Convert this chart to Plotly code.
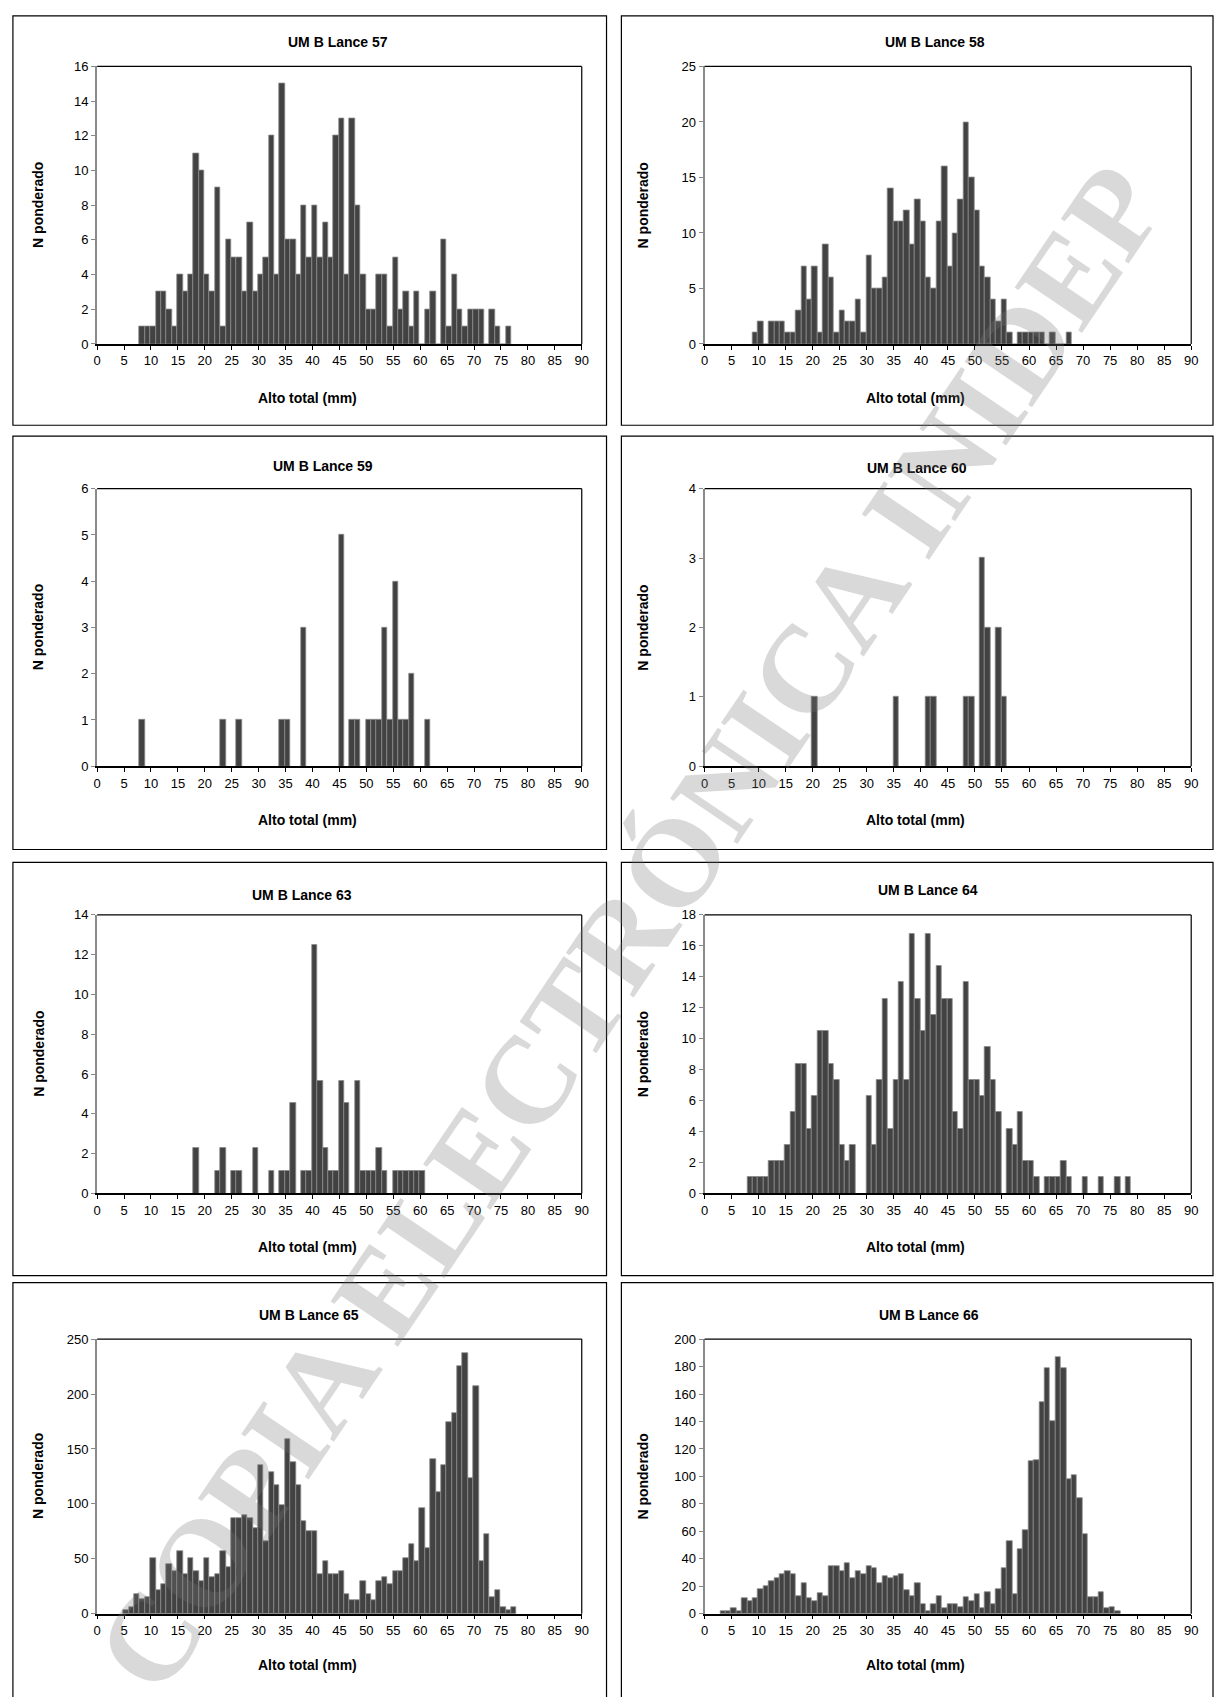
import plotly.graph_objects as go

W, H = 1221, 1697

# ---------------- data ----------------
len57 = list(range(8, 77))
n57 = [1, 1, 1, 3, 3, 2, 1, 4, 3, 4,
       11, 10, 4, 3, 9, 1, 6, 5, 5, 3,
       7, 3, 4, 5, 12, 4, 15, 6, 6, 4,
       8, 5, 8, 5, 7, 5, 12, 13, 4, 13,
       8, 4, 2, 2, 4, 4, 1, 5, 2, 3,
       1, 3, 0, 2, 3, 0, 6, 1, 4, 2,
       1, 2, 2, 2, 0, 2, 1, 0, 1]

len58 = list(range(9, 68))
n58 = [1, 2, 0, 2, 2, 2, 1, 1, 3, 7,
       4, 7, 1, 9, 6, 1, 3, 2, 2, 4,
       1, 8, 5, 5, 6, 14, 11, 11, 12, 9,
       13, 11, 6, 5, 11, 16, 7, 10, 13, 20,
       15, 12, 7, 6, 4, 2, 4, 1, 0, 1,
       1, 1, 1, 1, 0, 1, 0, 0, 1]

len59 = [8, 23, 26, 34, 35, 38, 45, 47, 48, 50, 51, 52, 53, 54, 55, 56, 57, 58, 61]
n59 = [1, 1, 1, 1, 1, 3, 5, 1, 1, 1, 1, 1, 3, 1, 4, 1, 1, 2, 1]

len60 = [20, 35, 41, 42, 48, 49, 51, 52, 54, 55]
n60 = [1, 1, 1, 1, 1, 1, 3, 2, 2, 1]

len63 = [18, 22, 23, 25, 26, 29, 32, 34, 35, 36, 38, 39, 40, 41, 42, 43, 44, 45, 46,
         48, 49, 50, 51, 52, 53, 55, 56, 57, 58, 59, 60]
n63 = [2.27, 1.13, 2.27, 1.13, 1.13, 2.27, 1.13, 1.13, 1.13, 4.54, 1.13, 1.13, 12.47,
       5.67, 2.27, 1.13, 1.13, 5.67, 4.54, 5.67, 1.13, 1.13, 1.13, 2.27, 1.13,
       1.13, 1.13, 1.13, 1.13, 1.13, 1.13]

len64 = list(range(8, 79))
n64 = [1.05, 1.05, 1.05, 1.05, 2.1, 2.1, 2.1, 3.15, 5.25, 8.4,
       8.4, 4.2, 6.3, 10.5, 10.5, 8.4, 7.35, 3.15, 2.1, 3.15,
       0, 0, 6.3, 3.15, 7.35, 12.6, 4.2, 7.35, 13.65, 7.35,
       16.8, 12.6, 10.5, 16.8, 11.55, 14.7, 12.6, 12.6, 5.25, 4.2,
       13.65, 7.35, 7.35, 6.3, 9.45, 7.35, 5.25, 0, 4.2, 3.15,
       5.25, 2.1, 2.1, 1.05, 0, 1.05, 1.05, 1.05, 2.1, 1.05,
       0, 0, 1.05, 0, 0, 1.05, 0, 0, 1.05, 0, 1.05]

len65 = list(range(5, 78))
n65 = [3, 6, 18, 13, 15, 51, 21, 27, 45, 39,
       57, 36, 51, 39, 30, 51, 33, 36, 57, 42,
       87, 87, 90, 87, 78, 135, 66, 129, 117, 99,
       159, 138, 117, 84, 75, 75, 36, 48, 36, 36,
       39, 18, 12, 12, 30, 18, 12, 30, 33, 27,
       39, 39, 51, 63, 48, 96, 60, 141, 111, 135,
       174, 183, 225, 237, 123, 207, 48, 72, 15, 21,
       6, 3, 6]

len66 = list(range(3, 77))
n66 = [2, 2, 4, 2, 11, 9, 11, 18, 20, 24,
       26, 29, 31, 29, 13, 22, 11, 9, 15, 13,
       35, 35, 31, 37, 26, 31, 29, 35, 33, 22,
       27, 26, 27, 29, 17, 13, 22, 7, 2, 7,
       13, 4, 7, 7, 5, 12, 9, 14, 4, 16,
       7, 18, 33, 53, 14, 47, 61, 111, 112, 154,
       179, 140, 187, 179, 98, 101, 84, 58, 12, 12,
       16, 4, 5, 1.5]

titles = ["UM B Lance 57", "UM B Lance 58", "UM B Lance 59", "UM B Lance 60",
          "UM B Lance 63", "UM B Lance 64", "UM B Lance 65", "UM B Lance 66"]
x_title = "Alto total (mm)"
y_title = "N ponderado"
x_ticks = list(range(0, 91, 5))
y_max = [16, 25, 6, 4, 14, 18, 250, 200]
y_step = [2, 5, 1, 1, 2, 2, 50, 20]
watermark = "COPIA ELECTRÓNICA INIDEP"

# ---------------- layout helpers (pixels) ----------------
col_x = [(94, 583), (707, 1198)]
row_y = [(60, 340), (486, 766), (916, 1197), (1344, 1621)]
box_x = [(9, 608), (623, 1220)]
box_y = [(9, 422), (433, 850), (863, 1280), (1287, 1710)]
title_pos = [(337, 35), (939, 35), (322, 463), (921, 465),
             (301, 896), (932, 891), (308, 1320), (933, 1320)]
xt_x = [306, 920]
xt_y = [394, 820, 1251, 1673]
yt_x = [35, 645]

def px(x):
    return x / W

def py(y):
    return 1 - y / H

FONT = "Arial, 'Liberation Sans', sans-serif"
BAR = "#424242"
EDGE = "#8a8a8a"

series = [(len57, n57), (len58, n58), (len59, n59), (len60, n60),
          (len63, n63), (len64, n64), (len65, n65), (len66, n66)]

fig = go.Figure()
shapes = []
annotations = []

for k, (lx, ny) in enumerate(series):
    r, c = divmod(k, 2)
    idx = "" if k == 0 else str(k + 1)
    xa, ya = "x" + idx, "y" + idx
    fig.add_trace(go.Bar(
        x=lx, y=ny, xaxis=xa, yaxis=ya, width=1, offset=-0.12,
        marker=dict(color=BAR, line=dict(color=EDGE, width=0.8)),
        showlegend=False, hoverinfo="x+y"))
    x0, x1 = col_x[c]
    y0, y1 = row_y[r]
    fig.layout["xaxis" + idx] = dict(
        domain=[px(x0), px(x1)], anchor=ya, range=[0, 90],
        tickmode="array", tickvals=x_ticks, ticktext=[str(v) for v in x_ticks],
        ticks="outside", ticklen=4, tickwidth=1, tickcolor="black",
        showline=True, linecolor="black", linewidth=1.5,
        showgrid=False, zeroline=False,
        tickfont=dict(family=FONT, size=13, color="black"), fixedrange=True)
    fig.layout["yaxis" + idx] = dict(
        domain=[py(y1), py(y0)], anchor=xa, range=[0, y_max[k]],
        tick0=0, dtick=y_step[k],
        ticks="outside", ticklen=4, tickwidth=1, tickcolor="#888888",
        showline=True, linecolor="#8a8a8a", linewidth=2,
        showgrid=False, zeroline=False,
        tickfont=dict(family=FONT, size=13, color="black"), fixedrange=True)
    # top and right borders of plot area
    shapes.append(dict(type="line", xref="paper", yref="paper",
                       x0=px(x0), x1=px(x1), y0=py(y0), y1=py(y0),
                       line=dict(color="black", width=1.2)))
    shapes.append(dict(type="line", xref="paper", yref="paper",
                       x0=px(x1), x1=px(x1), y0=py(y0), y1=py(y1),
                       line=dict(color="black", width=1.2)))
    # chart box
    bx0, bx1 = box_x[c]
    by0, by1 = box_y[r]
    shapes.append(dict(type="rect", xref="paper", yref="paper",
                       x0=px(bx0), x1=px(bx1), y0=py(by1), y1=py(by0),
                       line=dict(color="black", width=1.2)))
    # titles
    tx, ty = title_pos[k]
    annotations.append(dict(text="<b>%s</b>" % titles[k], x=px(tx), y=py(ty),
                            xref="paper", yref="paper", showarrow=False,
                            xanchor="center", yanchor="middle",
                            font=dict(family=FONT, size=14, color="black")))
    annotations.append(dict(text="<b>%s</b>" % x_title, x=px(xt_x[c]), y=py(xt_y[r]),
                            xref="paper", yref="paper", showarrow=False,
                            xanchor="center", yanchor="middle",
                            font=dict(family=FONT, size=14, color="black")))
    annotations.append(dict(text="<b>%s</b>" % y_title, x=px(yt_x[c]),
                            y=py((y0 + y1) / 2), textangle=-90,
                            xref="paper", yref="paper", showarrow=False,
                            xanchor="center", yanchor="middle",
                            font=dict(family=FONT, size=14, color="black")))

annotations.append(dict(text="<b>%s</b>" % watermark, x=px(632), y=py(930),
                        xref="paper", yref="paper", showarrow=False,
                        xanchor="center", yanchor="middle", textangle=-56,
                        font=dict(family="'Liberation Serif', 'DejaVu Serif', serif",
                                  size=124, color="rgba(120,120,120,0.28)")))

fig.update_layout(width=W, height=H, autosize=False,
                  margin=dict(l=0, r=0, t=0, b=0),
                  paper_bgcolor="white", plot_bgcolor="white",
                  bargap=0, shapes=shapes, annotations=annotations)

fig.write_html("out.html")
